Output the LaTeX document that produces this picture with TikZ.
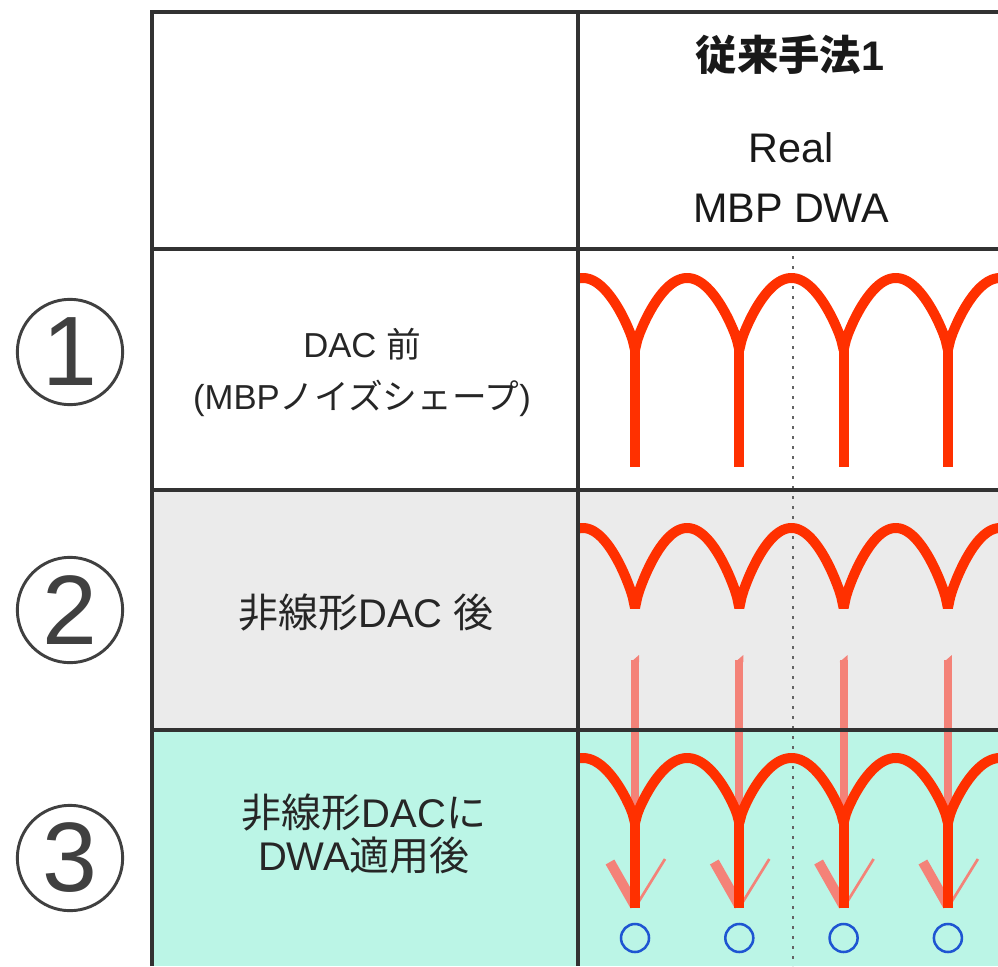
\documentclass[tikz,border=0pt]{standalone}
\usepackage{fontspec}
\setmainfont{Liberation Sans}
\newfontfamily\jp{Noto Sans CJK JP}
\usetikzlibrary{positioning}

\definecolor{wavered}{RGB}{255,48,0}
\definecolor{stempink}{RGB}{244,130,120}
\definecolor{rowgray}{RGB}{235,235,235}
\definecolor{rowmint}{RGB}{187,245,230}
\definecolor{gridline}{RGB}{50,50,50}
\definecolor{dotblue}{RGB}{30,85,210}
\definecolor{dotgray}{RGB}{100,100,100}

\begin{document}
\begin{tikzpicture}[
  x=0.75pt, y=-0.75pt,
  gridln/.style={line width=2.4pt, draw=gridline},
  wave/.style={line width=7.5pt, draw=wavered, line join=bevel},
  stem/.style={line width=7.5pt, draw=wavered},
  pinkstem/.style={line width=6pt, draw=stempink},
  dotline/.style={line width=2pt, draw=dotgray, dash pattern=on 2.5pt off 5pt},
  ring/.style={circle, draw=dotblue, line width=1.9pt, minimum size=21pt, inner sep=0pt},
  num/.style={circle, draw=black!75, line width=2.2pt, minimum size=79pt, inner sep=0pt,
    text=black!75, font=\fontsize{74}{74}\selectfont},
  head/.style={align=center, text=black!90, font=\fontsize{31}{45}\selectfont},
  lab/.style={align=center, text=black!85, font=\fontsize{30}{32}\selectfont}
]
  \useasboundingbox (0,0) rectangle (998,966);
  \clip (0,0) rectangle (998,966);

  % Hintergrund der Zeilen
  \fill[rowgray] (152,490) rectangle (998,730);
  \fill[rowmint] (152,730) rectangle (998,966);

  % Mittellinie
  \draw[dotline] (793,256) -- (793,966);

  \begin{scope}
    \clip (579.5,251) rectangle (998,966);

    % Zeile 1: vor dem DAC
    \draw[wave] plot[variable=\t, domain=-108:632, samples=186]
      ({635+0.579444*\t}, {350-72*pow(abs(sin(\t))+0.0001,0.75)});
    % Zeile 2: nichtlinearer DAC
    \draw[wave] plot[variable=\t, domain=-108:632, samples=186]
      ({635+0.579444*\t}, {608-80*pow(abs(sin(\t))+0.0001,0.75)});

    \foreach \i [evaluate=\i as \cx using 635+104.3*\i] in {0,...,3} {
      % rosa Pfeile
      \draw[pinkstem] (\cx,660) -- (\cx,900);
      \fill[stempink] (\cx-4,662) -- (\cx+4,655) -- (\cx+4,662) -- cycle;
      \draw[stempink, line width=7.5pt] (\cx-25,862) -- (\cx,906);
      \draw[stempink, line width=2pt] (\cx+30,859) -- (\cx+1,906);
      % Stiele
      \draw[stem] (\cx,348) -- (\cx,467);
      \draw[stem] (\cx,821) -- (\cx,908);
      % Kreise
      \node[ring] (o\i) at (\cx,938) {};
    }

    % Zeile 3: DWA
    \draw[wave] plot[variable=\t, domain=-108:632, samples=186]
      ({635+0.579444*\t}, {823-65*pow(abs(sin(\t))+0.0001,0.75)});
  \end{scope}

  % Tabelle
  \draw[gridln] (152,966) -- (152,12) -- (998,12);
  \draw[gridln] (578,12) -- (578,966);
  \foreach \y in {249,490,730} {
    \draw[gridln] (152,\y) -- (998,\y);
  }

  % Kopfzeile
  \node[head] (title) at (790,55) {{\jp\bfseries 従来手法}\textbf{1}};
  \node[head] (method) at (791,178) {Real\\MBP DWA};

  % Zeilenbeschriftungen
  \node[lab, font=\fontsize{26}{39}\selectfont] (lab1) at (362,372)
    {DAC {\jp 前}\\(MBP{\jp ノイズシェープ})};
  \node[lab] (lab2) at (366,612) {{\jp 非線形}DAC {\jp 後}};
  \node[lab] (lab3) at (364,834) {{\jp 非線形}DAC{\jp に}\\DWA{\jp 適用後}};

  % Nummern
  \node[num] (n1) at (70,352) {1};
  \node[num] (n2) at (70,610) {2};
  \node[num] (n3) at (70,858) {3};
\end{tikzpicture}
\end{document}
